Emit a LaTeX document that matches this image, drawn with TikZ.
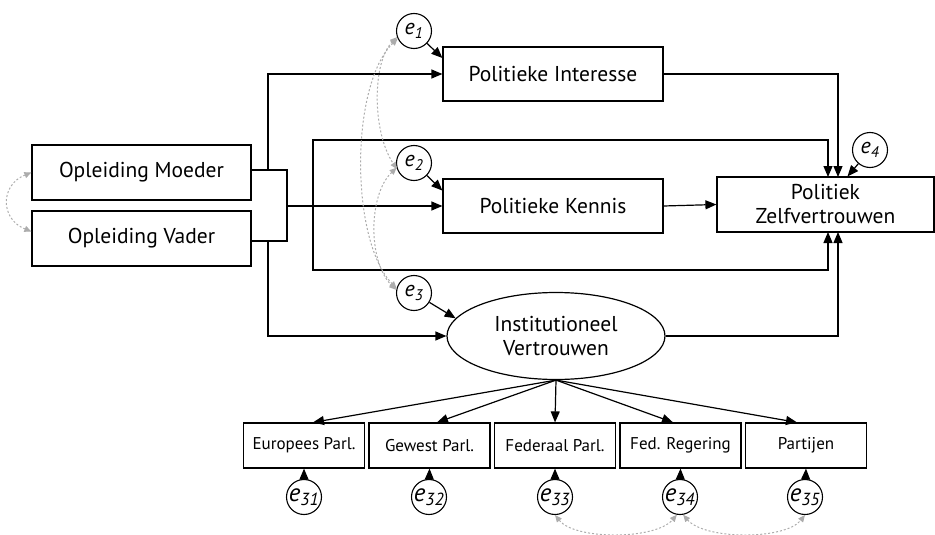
\documentclass[tikz,border=0pt]{standalone}
\usepackage{fontspec}
\setmainfont{PT Sans}
\usetikzlibrary{arrows.meta,shapes.geometric,calc}
\newcommand\eerr[1]{\textit{e}\textsubscript{\textit{#1}}}
\begin{document}
\begin{tikzpicture}[x=1pt,y=-1pt,
  line width=1.2pt,
  >={Triangle[length=11pt,width=9pt]},
  box/.style={draw,line width=1.2pt,inner sep=0pt,font=\fontsize{21.5}{24}\selectfont,align=center},
  smallbox/.style={draw,line width=1.2pt,minimum width=121pt,minimum height=45pt,inner sep=0pt,font=\fontsize{17}{20}\selectfont},
  err/.style={draw,circle,minimum size=35pt,inner sep=0pt,line width=1.1pt,font=\fontsize{22}{22}\selectfont},
  errb/.style={err,font=\fontsize{25}{25}\selectfont},
  cov/.style={draw=gray!65,dash pattern=on 2pt off 2pt,line width=1pt,{Triangle[length=7pt,width=6pt]}-{Triangle[length=7pt,width=6pt]}},
]
\useasboundingbox (0,0) rectangle (935,535);

% boxes
\node[box,minimum width=219pt,minimum height=55pt] (mo) at (141.5,172.5) {Opleiding Moeder};
\node[box,minimum width=219pt,minimum height=55pt] (va) at (141.5,238.5) {Opleiding Vader};
\node[box,minimum width=220pt,minimum height=54pt] (pi) at (553,74) {Politieke Interesse};
\node[box,minimum width=220pt,minimum height=54pt] (pk) at (553,206) {Politieke Kennis};
\node[box,minimum width=217pt,minimum height=55pt] (pz) at (825.5,204.5) {Politiek\\Zelfvertrouwen};
\node[box,ellipse,minimum width=218pt,minimum height=87pt] (iv) at (556,336) {Institutioneel\\Vertrouwen};

% small boxes
\node[smallbox] (eu) at (304,445.5) {Europees Parl.};
\node[smallbox] (gw) at (429.5,445.5) {Gewest Parl.};
\node[smallbox] (fp) at (555,445.5) {Federaal Parl.};
\node[smallbox] (fr) at (680.5,445.5) {Fed. Regering};
\node[smallbox] (pa) at (806,445.5) {Partijen};

% error terms
\node[err] (e1) at (414,31) {\eerr{1}};
\node[err] (e2) at (414,163) {\eerr{2}};
\node[err] (e3) at (414,293) {\eerr{3}};
\node[err] (e4) at (870,150) {\eerr{4}};
\node[errb] (e31) at (304,497) {\eerr{31}};
\node[errb] (e32) at (429,497) {\eerr{32}};
\node[errb] (e33) at (555,497) {\eerr{33}};
\node[errb] (e34) at (680,497) {\eerr{34}};
\node[errb] (e35) at (805,497) {\eerr{35}};

% bend coordinates
\coordinate (bt) at (251,170);
\coordinate (bb) at (251,241);
\coordinate (btr) at (287,170);
\coordinate (bbr) at (287,241);
\coordinate (bj) at (287,206);
\coordinate (ut) at (268,170);
\coordinate (ub) at (268,241);
\coordinate (lj) at (313,206);

% bracket
\draw (bt) -- (btr) -- (bbr) -- (bb);
\draw[->] (bj) -- (pk.west);
\draw[->] (ut) -- (ut |- pi.west) -- (pi.west);
\draw[->] (ub) -- (ub |- iv.west) -- (iv.west);
\draw[->] (lj) -- (313,140) -- (828,140) -- (828,177);
\draw[->] (lj) -- (313,270) -- (828,270) -- (828,232);
\draw[->] (pi.east) -- (838,74) -- (838,177);
\draw[->] (iv.east) -- (838,336) -- (838,232);
\draw[->] (pk.east) -- (pz.west);

% error arrows
\draw[->] (e1) -- ($(pi.north west)!0.21!(pi.south west)$);
\draw[->] (e2) -- ($(pk.north west)!0.22!(pk.south west)$);
\draw[->] (e3) -- (iv.170);
\draw[->] (e4) -- ($(pz.north)+(22,0)$);

% measurement arrows
\draw[->] (iv.south) -- ($(eu.north)+(9,0)$);
\draw[->] (iv.south) -- ($(gw.north)+(7.5,0)$);
\draw[->] (iv.south) -- (fp.north);
\draw[->] (iv.south) -- ($(fr.north)+(-7.5,0)$);
\draw[->] (iv.south) -- ($(pa.north)+(-9,0)$);

\foreach \e/\b in {e31/eu,e32/gw,e33/fp,e34/fr,e35/pa}
  \draw[->] (\e) -- (\b.south);

% covariances
\draw[cov] (mo.west) .. controls (0,185) and (0,219) .. ($(va.west)+(0,-7)$);
\draw[cov] (e1.200) .. controls (372,62) and (372,132) .. (e2.200);
\draw[cov] (e1.205) .. controls (350,85) and (350,240) .. (e3.165);
\draw[cov] (e2.195) .. controls (368,195) and (368,262) .. (e3.170);
\draw[cov] (e33.south) .. controls (575,540) and (655,540) .. (e34.-100);
\draw[cov] (e34.-80) .. controls (705,540) and (785,540) .. (e35.south);
\end{tikzpicture}
\end{document}
